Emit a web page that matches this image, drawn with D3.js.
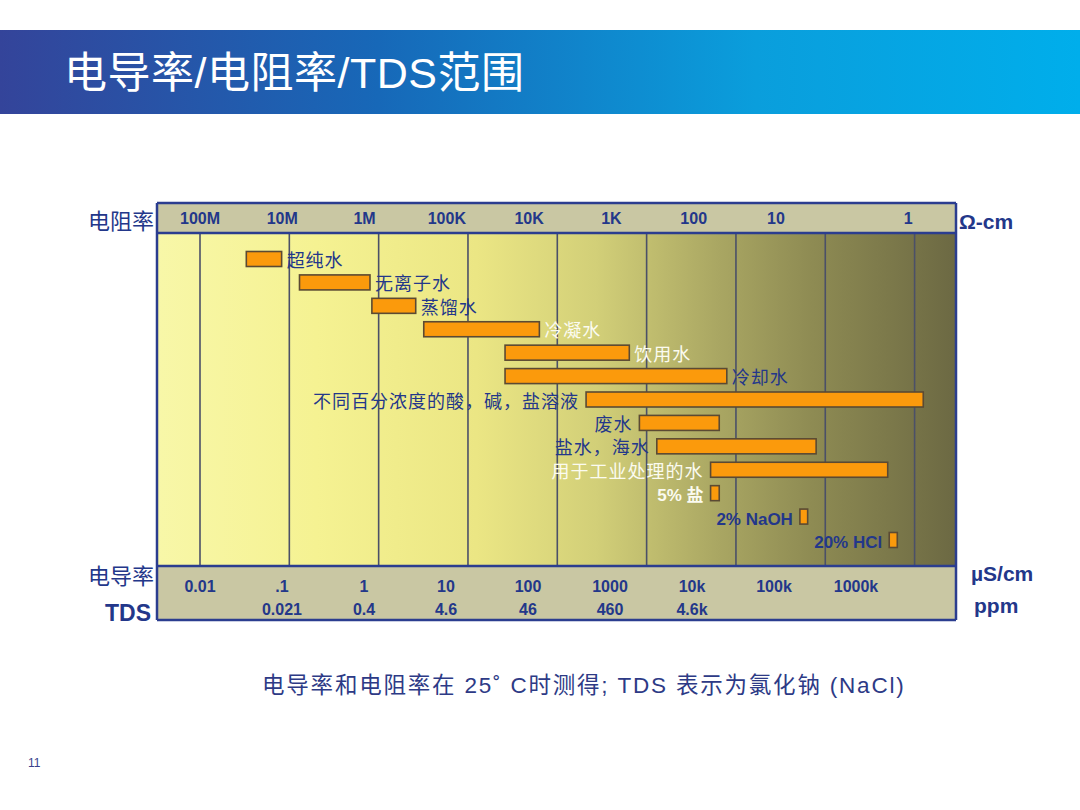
<!DOCTYPE html>
<html>
<head>
<meta charset="utf-8">
<script src="https://cdn.jsdelivr.net/npm/d3@7"></script>
<style>
  body { margin: 0; background: #fff; }
  svg { display: block; }
</style>
</head>
<body>
<div id="chart"></div>
<script>
// water types, conductivity range in uS/cm
var categories = ['超纯水', '无离子水', '蒸馏水', '冷凝水', '饮用水', '冷却水',
    '不同百分浓度的酸，碱，盐溶液', '废水', '盐水，海水', '用于工业处理的水',
    '5% 盐', '2% NaOH', '20% HCl'];
var lowValues = [0.033, 0.13, 0.84, 3.2, 26, 26, 210, 830, 1300, 5200, 5200, 52000, 520000];
var highValues = [0.082, 0.8, 2.6, 63, 640, 7900, 1250000, 6500, 79000, 500000, 6500, 63500, 640000];

// axis ticks
var condTicks = [0.01, 0.1, 1, 10, 100, 1000, 1e4, 1e5, 1e6];
var condLabels = ['0.01', '.1', '1', '10', '100', '1000', '10k', '100k', '1000k'];
var tdsLabels = ['', '0.021', '0.4', '4.6', '46', '460', '4.6k', '', ''];
var resTicks = [1e8, 1e7, 1e6, 1e5, 1e4, 1e3, 100, 10, 1];
var resLabels = ['100M', '10M', '1M', '100K', '10K', '1K', '100', '10', '1'];

var width = 1080;
height = 810;
var frame = { left: 157, right: 956, top: 203, bandTop: 233, bandBottom: 566, bottom: 620 };

var blue = '#23378a';
var latin = '"Liberation Sans", Arial, sans-serif';
var cjk = '"Noto Sans CJK SC", sans-serif';
var mixed = '"Liberation Sans", Arial, "Noto Sans CJK SC", sans-serif';
var lightLabels = ['冷凝水', '饮用水', '用于工业处理的水', '5% 盐'];
var boldLabels = ['5% 盐', '2% NaOH', '20% HCl'];

var svg = d3.select('#chart')
    .append('svg')
    .attr('width', width)
    .attr('height', height);

var defs = svg.append('defs');

var titleGrad = defs.append('linearGradient').attr('id', 'titleGrad');
[['0%', '#34449a'], ['35%', '#1768b8'], ['70%', '#0a9edc'], ['100%', '#00aeeb']].forEach(function (s) {
    titleGrad.append('stop').attr('offset', s[0]).attr('stop-color', s[1]);
});

var plotGrad = defs.append('linearGradient').attr('id', 'plotGrad');
[['0%', '#f8f7a8'], ['20%', '#f5f292'], ['40%', '#ebe684'], ['55%', '#d2cf78'],
 ['70%', '#aaa763'], ['82%', '#8e8b53'], ['100%', '#6c6943']].forEach(function (s) {
    plotGrad.append('stop').attr('offset', s[0]).attr('stop-color', s[1]);
});

// title bar
svg.append('rect')
    .attr('x', 0).attr('y', 30)
    .attr('width', width).attr('height', 84)
    .attr('fill', 'url(#titleGrad)');

svg.append('text')
    .attr('x', 64).attr('y', 88)
    .attr('textLength', 460)
    .attr('lengthAdjust', 'spacing')
    .style('font-family', mixed)
    .style('font-size', '43px')
    .style('fill', '#fff')
    .text('电导率/电阻率/TDS范围');

// scales
var x = d3.scaleLog()
    .domain([0.01, 1e6])
    .range([200, 914.6]);

// the printed tick labels sit on a slightly tighter spacing than the grid
var condLabelX = d3.scaleLog().domain([0.01, 1e6]).range([200, 856]);
var resLabelX = d3.scaleLog().domain([1e8, 10]).range([200, 776]);

var y = d3.scalePoint()
    .domain(categories)
    .range([259, 540]);

// plot background and bands
svg.append('rect')
    .attr('x', frame.left).attr('y', frame.bandTop)
    .attr('width', frame.right - frame.left)
    .attr('height', frame.bandBottom - frame.bandTop)
    .attr('fill', 'url(#plotGrad)');

svg.append('rect')
    .attr('x', frame.left).attr('y', frame.top)
    .attr('width', frame.right - frame.left)
    .attr('height', frame.bandTop - frame.top)
    .attr('fill', '#c9c7a3');

svg.append('rect')
    .attr('x', frame.left).attr('y', frame.bandBottom)
    .attr('width', frame.right - frame.left)
    .attr('height', frame.bottom - frame.bandBottom)
    .attr('fill', '#c9c7a3');

// grid lines
svg.append('g')
    .selectAll('line')
    .data(condTicks)
    .join('line')
    .attr('x1', function (d) { return x(d); })
    .attr('x2', function (d) { return x(d); })
    .attr('y1', frame.bandTop)
    .attr('y2', frame.bandBottom)
    .attr('stroke', '#4b5068')
    .attr('stroke-width', 1.6);

// frame borders
[frame.top, frame.bandTop, frame.bandBottom, frame.bottom].forEach(function (yy) {
    svg.append('line')
        .attr('x1', frame.left).attr('x2', frame.right)
        .attr('y1', yy).attr('y2', yy)
        .attr('stroke', '#2b3d8f').attr('stroke-width', 2.5);
});
[frame.left, frame.right].forEach(function (xx) {
    svg.append('line')
        .attr('x1', xx).attr('x2', xx)
        .attr('y1', frame.top).attr('y2', frame.bottom)
        .attr('stroke', '#2b3d8f').attr('stroke-width', 2.5);
});

// resistivity labels (top band)
svg.append('g')
    .selectAll('text')
    .data(resTicks)
    .join('text')
    .attr('x', function (d, i) {
        // last label is pushed against its grid line
        return i === resTicks.length - 1 ? x(1e6) - 2 : resLabelX(d);
    })
    .attr('y', 224)
    .attr('text-anchor', function (d, i) { return i === resTicks.length - 1 ? 'end' : 'middle'; })
    .style('font-family', latin)
    .style('font-weight', 'bold')
    .style('font-size', '16px')
    .style('fill', blue)
    .text(function (d, i) { return resLabels[i]; });

// conductivity + TDS labels (bottom band)
svg.append('g')
    .selectAll('text')
    .data(condTicks)
    .join('text')
    .attr('x', function (d) { return condLabelX(d); })
    .attr('y', 592)
    .attr('text-anchor', 'middle')
    .style('font-family', latin)
    .style('font-weight', 'bold')
    .style('font-size', '16px')
    .style('fill', blue)
    .text(function (d, i) { return condLabels[i]; });

svg.append('g')
    .selectAll('text')
    .data(condTicks)
    .join('text')
    .attr('x', function (d) { return condLabelX(d); })
    .attr('y', 615)
    .attr('text-anchor', 'middle')
    .style('font-family', latin)
    .style('font-weight', 'bold')
    .style('font-size', '16px')
    .style('fill', blue)
    .text(function (d, i) { return tdsLabels[i]; });

// bars
svg.append('g')
    .selectAll('rect')
    .data(categories)
    .join('rect')
    .attr('x', function (d, i) { return x(lowValues[i]); })
    .attr('y', function (d) { return y(d) - 7.5; })
    .attr('width', function (d, i) { return x(highValues[i]) - x(lowValues[i]); })
    .attr('height', 15)
    .attr('fill', '#fb9a0c')
    .attr('stroke', '#5b4a33')
    .attr('stroke-width', 1.6);

// bar labels: first six on the right, the rest on the left
svg.append('g')
    .selectAll('text')
    .data(categories)
    .join('text')
    .attr('x', function (d, i) { return i < 6 ? x(highValues[i]) + 5 : x(lowValues[i]) - 7; })
    .attr('y', function (d) { return y(d) + 8; })
    .attr('text-anchor', function (d, i) { return i < 6 ? 'start' : 'end'; })
    .style('font-family', function (d) { return boldLabels.includes(d) ? mixed : cjk; })
    .style('font-weight', function (d) { return boldLabels.includes(d) ? 'bold' : 'normal'; })
    .style('font-size', function (d) { return boldLabels.includes(d) ? '17px' : '18px'; })
    .style('letter-spacing', function (d) { return boldLabels.includes(d) ? '0px' : '1px'; })
    .style('fill', function (d) { return lightLabels.includes(d) ? '#fbfbf0' : blue; })
    .text(function (d) { return d; });

// side titles
svg.append('text')
    .attr('x', 154).attr('y', 229)
    .attr('text-anchor', 'end')
    .style('font-family', cjk)
    .style('font-size', '22px')
    .style('fill', blue)
    .text('电阻率');

svg.append('text')
    .attr('x', 154).attr('y', 584)
    .attr('text-anchor', 'end')
    .style('font-family', cjk)
    .style('font-size', '22px')
    .style('fill', blue)
    .text('电导率');

svg.append('text')
    .attr('x', 151).attr('y', 621)
    .attr('text-anchor', 'end')
    .style('font-family', latin)
    .style('font-weight', 'bold')
    .style('font-size', '23px')
    .style('fill', blue)
    .text('TDS');

svg.append('text')
    .attr('x', 959).attr('y', 229)
    .style('font-family', latin)
    .style('font-weight', 'bold')
    .style('font-size', '21px')
    .style('fill', blue)
    .text('Ω-cm');

svg.append('text')
    .attr('x', 971).attr('y', 581)
    .style('font-family', latin)
    .style('font-weight', 'bold')
    .style('font-size', '21px')
    .style('fill', blue)
    .text('µS/cm');

svg.append('text')
    .attr('x', 974).attr('y', 613)
    .style('font-family', latin)
    .style('font-weight', 'bold')
    .style('font-size', '21px')
    .style('fill', blue)
    .text('ppm');

// footnote
svg.append('text')
    .attr('x', 262).attr('y', 693)
    .style('font-family', mixed)
    .style('font-size', '22.5px')
    .style('letter-spacing', '1.8px')
    .style('fill', '#2d3a86')
    .text('电导率和电阻率在 25˚ C时测得; TDS 表示为氯化钠 (NaCl)');

// page number
svg.append('text')
    .attr('x', 28).attr('y', 767)
    .style('font-family', latin)
    .style('font-size', '12px')
    .style('fill', '#3a3f8c')
    .text('11');
</script>
</body>
</html>
